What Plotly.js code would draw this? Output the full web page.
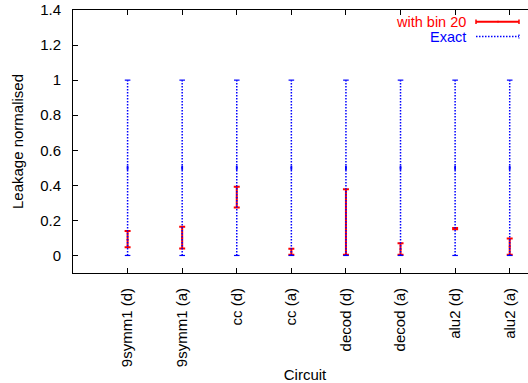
<!DOCTYPE html>
<html>
<head>
<meta charset="utf-8">
<script src="https://cdn.plot.ly/plotly-3.0.1.min.js"></script>
<style>
html,body{margin:0;padding:0;overflow:hidden;background:#fff;}
#chart{width:538px;height:383px;}
</style>
</head>
<body>
<div id="chart"></div>
<script>
// Data
var categories = ["9symm1 (d)", "9symm1 (a)", "cc (d)", "cc (a)", "decod (d)", "decod (a)", "alu2 (d)", "alu2 (a)"];
var positions = [1, 2, 3, 4, 5, 6, 7, 8];
var binLow  = [0.047, 0.040, 0.274, 0.004, 0.004, 0.004, 0.150, 0.004];
var binMid  = [0.090, 0.100, 0.330, 0.020, 0.190, 0.035, 0.153, 0.050];
var binHigh = [0.139, 0.164, 0.392, 0.038, 0.377, 0.070, 0.156, 0.097];
var exactLow  = [0, 0, 0, 0, 0, 0, 0, 0];
var exactMid  = [0.5, 0.5, 0.5, 0.5, 0.5, 0.5, 0.5, 0.5];
var exactHigh = [1, 1, 1, 1, 1, 1, 1, 1];

var RED = "#ff0000", BLUE = "#0000ff";
var FONT = "Liberation Sans, Arial, Helvetica, sans-serif";

// red error bars
var redTrace = {
  x: positions, y: binMid, type: "scatter", mode: "markers",
  marker: {size: 2, color: RED},
  error_y: {
    type: "data", symmetric: false,
    array: binHigh.map(function(h, i){ return h - binMid[i]; }),
    arrayminus: binLow.map(function(l, i){ return binMid[i] - l; }),
    color: RED, thickness: 2, width: 3
  },
  showlegend: false, hoverinfo: "skip"
};

// blue dotted vertical lines
var bx = [], by = [];
positions.forEach(function(p, i){
  bx.push(p, p, null);
  by.push(exactLow[i], exactHigh[i], null);
});
var blueLine = {
  x: bx, y: by, type: "scatter", mode: "lines",
  line: {color: BLUE, width: 1.5, dash: "1.5px,1.5px"},
  showlegend: false, hoverinfo: "skip"
};
// blue caps
var cx = [], cy = [];
positions.forEach(function(p, i){
  cx.push(p, p);
  cy.push(exactLow[i], exactHigh[i]);
});
var blueCaps = {
  x: cx, y: cy, type: "scatter", mode: "markers",
  marker: {symbol: "line-ew", size: 4, line: {color: BLUE, width: 1.2}},
  showlegend: false, hoverinfo: "skip"
};
// blue centre points (subtle)
var blueMid = {
  x: positions, y: exactMid, type: "scatter", mode: "markers",
  marker: {symbol: "line-ns", size: 3, line: {color: BLUE, width: 1.8}},
  showlegend: false, hoverinfo: "skip"
};

function px2paperX(px){ return (px - 73) / 464; }
function px2paperY(py){ return (273 - py) / 263; }

var shapes = [
  // red legend sample
  {type: "line", xref: "paper", yref: "paper", x0: px2paperX(476), x1: px2paperX(519), y0: px2paperY(21.7), y1: px2paperY(21.7), line: {color: RED, width: 2}},
  {type: "line", xref: "paper", yref: "paper", x0: px2paperX(476), x1: px2paperX(476), y0: px2paperY(19.5), y1: px2paperY(24), line: {color: RED, width: 1.5}},
  {type: "line", xref: "paper", yref: "paper", x0: px2paperX(519), x1: px2paperX(519), y0: px2paperY(19.5), y1: px2paperY(24), line: {color: RED, width: 1.5}},
  {type: "line", xref: "paper", yref: "paper", x0: px2paperX(498), x1: px2paperX(498), y0: px2paperY(20.7), y1: px2paperY(22.7), line: {color: RED, width: 1}},
  // blue legend sample
  {type: "line", xref: "paper", yref: "paper", x0: px2paperX(476), x1: px2paperX(519), y0: px2paperY(36.5), y1: px2paperY(36.5), line: {color: BLUE, width: 1.5, dash: "1.5px,1.5px"}},
  {type: "line", xref: "paper", yref: "paper", x0: px2paperX(519), x1: px2paperX(519), y0: px2paperY(34.5), y1: px2paperY(38.5), line: {color: BLUE, width: 1.2, dash: "1.5px,1.5px"}}
];

var annotations = [
  {xref: "paper", yref: "paper", x: px2paperX(467), y: px2paperY(21.7), xanchor: "right", yanchor: "middle", borderpad: 0, text: "with bin 20", showarrow: false, font: {family: FONT, size: 14.5, color: RED}},
  {xref: "paper", yref: "paper", x: px2paperX(467), y: px2paperY(36.5), xanchor: "right", yanchor: "middle", borderpad: 0, text: "Exact", showarrow: false, font: {family: FONT, size: 14.5, color: BLUE}}
];

var layout = {
  width: 538, height: 383,
  margin: {l: 73, r: 1, t: 10, b: 110, pad: 0},
  paper_bgcolor: "#fff", plot_bgcolor: "#fff",
  font: {family: FONT, size: 15, color: "#000"},
  showlegend: false,
  xaxis: {
    range: [0, 8.5], tickvals: positions, ticktext: categories, tickangle: -90,
    ticks: "inside", ticklen: 5, tickwidth: 1, tickcolor: "#000",
    showline: true, linecolor: "#000", linewidth: 1, mirror: "ticks",
    showgrid: false, zeroline: false, ticklabelstandoff: 8,
    title: {text: "Circuit", standoff: 4, font: {family: FONT, size: 15}},
    tickfont: {family: FONT, size: 15}, automargin: false
  },
  yaxis: {
    range: [-0.1, 1.4], tickvals: [0, 0.2, 0.4, 0.6, 0.8, 1, 1.2, 1.4],
    ticktext: ["0", "0.2", "0.4", "0.6", "0.8", "1", "1.2", "1.4"],
    ticks: "inside", ticklen: 5, tickwidth: 1, tickcolor: "#000",
    showline: true, linecolor: "#000", linewidth: 1, mirror: "ticks",
    showgrid: false, zeroline: false, ticklabelstandoff: 8,
    title: {text: "Leakage normalised", standoff: 12, font: {family: FONT, size: 15}},
    tickfont: {family: FONT, size: 15}, automargin: false
  },
  shapes: shapes,
  annotations: annotations
};

Plotly.newPlot("chart", [redTrace, blueLine, blueCaps, blueMid], layout, {staticPlot: true, displayModeBar: false});
</script>
</body>
</html>
